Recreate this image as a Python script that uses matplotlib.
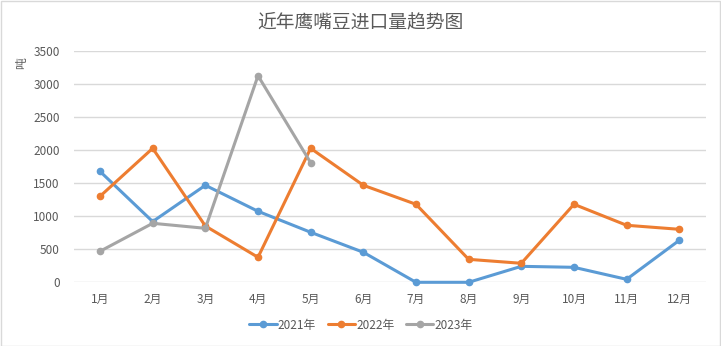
import matplotlib
matplotlib.use("Agg")
import matplotlib.pyplot as plt
from matplotlib.patches import Rectangle

plt.rcParams['font.family'] = ['Noto Sans CJK SC', 'DejaVu Sans']

months = ['1月', '2月', '3月', '4月', '5月', '6月', '7月', '8月', '9月', '10月', '11月', '12月']
y2021 = [1680, 920, 1470, 1076, 758, 455, 0, 0, 242, 227, 45, 636]
y2022 = [1303, 2030, 853, 379, 2030, 1470, 1182, 348, 288, 1182, 864, 803]
y2023 = [470, 894, 818, 3130, 1812]
series_names = ['2021年', '2022年', '2023年']
colors = ['#5B9BD5', '#ED7D31', '#A5A5A5']
yticks = [0, 500, 1000, 1500, 2000, 2500, 3000, 3500]

W, H = 721, 346
fig = plt.figure(figsize=(W / 100, H / 100), dpi=100)
ax = fig.add_axes([73.7 / W, 1 - 282.3 / H, (705.6 - 73.7) / W, (282.3 - 51.3) / H])

x = list(range(len(months)))
for vals, name, c in zip([y2021, y2022, y2023], series_names, colors):
    ax.plot(x[:len(vals)], vals, color=c, lw=2.2, marker='o', ms=4.5,
            label=name, solid_capstyle='round', solid_joinstyle='round',
            clip_on=False)

ax.set_xlim(-0.5, len(months) - 0.5)
ax.set_ylim(0, 3500)
ax.set_yticks(yticks)
ax.set_yticklabels([str(v) for v in yticks])
ax.set_xticks(x)
ax.set_xticklabels(months)
ax.grid(axis='y', color='#d9d9d9', lw=1)
ax.set_axisbelow(True)
for s in ax.spines.values():
    s.set_visible(False)
ax.tick_params(length=0, labelsize=8.5, labelcolor='#595959', pad=8)
ax.tick_params(axis='y', pad=10)

fig.text(22 / W, 1 - 63 / H, '吨', rotation=90, ha='center', va='center',
         fontsize=8.5, color='#595959')
fig.text(360 / W, 1 - 22 / H, '近年鹰嘴豆进口量趋势图', ha='center', va='center',
         fontsize=13.5, color='#595959')

leg = fig.legend(loc='center', bbox_to_anchor=(361 / W, 1 - 325 / H), ncol=3,
                 frameon=False, fontsize=8.5, handlelength=2.3, columnspacing=1.0,
                 handletextpad=0.1)
for t in leg.get_texts():
    t.set_color('#595959')

fig.patches.append(Rectangle((0.5 / W, 0.5 / H), 1 - 1.5 / W, 1 - 1.5 / H,
                             transform=fig.transFigure, fill=False,
                             edgecolor='#d9d9d9', lw=1))

fig.savefig('out.png', dpi=100, facecolor='white')
